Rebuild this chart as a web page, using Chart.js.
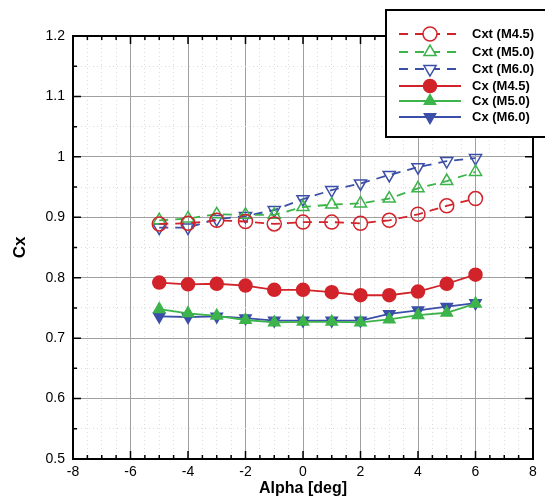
<!DOCTYPE html>
<html>
<head>
<meta charset="utf-8">
<script src="https://cdn.jsdelivr.net/npm/chart.js"></script>
<style>
  html, body { margin: 0; padding: 0; background: #fff; }
  #wrap { width: 545px; height: 498px; }
</style>
</head>
<body>
<div id="wrap"><canvas id="c" width="545" height="498"></canvas></div>
<script>
// valores
const alpha = [-5, -4, -3, -2, -1, 0, 1, 2, 3, 4, 5, 6];
const cxtM45 = [0.889, 0.890, 0.895, 0.893, 0.889, 0.892, 0.892, 0.890, 0.895, 0.905, 0.919, 0.931];
const cxtM50 = [0.895, 0.898, 0.905, 0.904, 0.904, 0.917, 0.921, 0.923, 0.931, 0.948, 0.960, 0.975];
const cxtM60 = [0.883, 0.883, 0.897, 0.902, 0.912, 0.930, 0.945, 0.956, 0.970, 0.983, 0.993, 0.998];
const cxM45 = [0.792, 0.789, 0.790, 0.787, 0.780, 0.780, 0.776, 0.771, 0.771, 0.777, 0.790, 0.805];
const cxM50 = [0.748, 0.741, 0.737, 0.730, 0.726, 0.727, 0.727, 0.726, 0.731, 0.738, 0.742, 0.757];
const cxM60 = [0.736, 0.735, 0.736, 0.733, 0.729, 0.729, 0.729, 0.729, 0.740, 0.746, 0.752, 0.758];
const seriesLabels = ['Cxt (M4.5)', 'Cxt (M5.0)', 'Cxt (M6.0)', 'Cx (M4.5)', 'Cx (M5.0)', 'Cx (M6.0)'];

const RED = '#d2232a';
const GREEN = '#3cb44b';
const BLUE = '#3b4fa8';

function pts(ys) {
    return alpha.map((x, i) => ({ x: x, y: ys[i] }));
}

function serie(label, ys, color, style, rot, filled) {
    return {
        label: label,
        data: pts(ys),
        borderColor: color,
        backgroundColor: filled ? color : 'rgba(0,0,0,0)',
        pointBorderColor: color,
        pointBackgroundColor: filled ? color : 'rgba(0,0,0,0)',
        pointStyle: style,
        pointRotation: rot,
        pointRadius: filled ? 6.5 : 7,
        pointBorderWidth: 1.5,
        borderWidth: 1.8,
        borderDash: filled ? [] : [9, 7],
        showLine: true,
        tension: 0
    };
}

const datasets = [
    serie(seriesLabels[0], cxtM45, RED, 'circle', 0, false),
    serie(seriesLabels[1], cxtM50, GREEN, 'triangle', 0, false),
    serie(seriesLabels[2], cxtM60, BLUE, 'triangle', 180, false),
    serie(seriesLabels[3], cxM45, RED, 'circle', 0, true),
    serie(seriesLabels[4], cxM50, GREEN, 'triangle', 0, true),
    serie(seriesLabels[5], cxM60, BLUE, 'triangle', 180, true)
];

function isMajor(v, step) {
    return Math.abs(v / step - Math.round(v / step)) < 1e-6;
}

// ticks internos + moldura
const framePlugin = {
    id: 'frame',
    afterDatasetsDraw(chart) {
        const ctx = chart.ctx;
        const a = chart.chartArea;
        const xs = chart.scales.x, ys = chart.scales.y;
        ctx.save();
        ctx.strokeStyle = '#000';
        ctx.lineWidth = 1.5;
        xs.ticks.forEach(t => {
            const px = xs.getPixelForValue(t.value);
            const len = isMajor(t.value, 2) ? 8 : 4;
            ctx.beginPath();
            ctx.moveTo(px, a.bottom); ctx.lineTo(px, a.bottom - len);
            ctx.moveTo(px, a.top); ctx.lineTo(px, a.top + len);
            ctx.stroke();
        });
        ys.ticks.forEach(t => {
            const py = ys.getPixelForValue(t.value);
            const len = isMajor(t.value, 0.1) ? 8 : 4;
            ctx.beginPath();
            ctx.moveTo(a.left, py); ctx.lineTo(a.left + len, py);
            ctx.moveTo(a.right, py); ctx.lineTo(a.right - len, py);
            ctx.stroke();
        });
        ctx.lineWidth = 2;
        ctx.strokeRect(a.left, a.top, a.right - a.left, a.bottom - a.top);
        ctx.restore();
    },
    afterDraw(chart) {
        // legenda desenhada por cima, no canto superior direito
        const ctx = chart.ctx;
        const bx = 386, by = 10, bw = 170, bh = 127;
        ctx.save();
        ctx.fillStyle = '#fff';
        ctx.fillRect(bx, by, bw, bh);
        ctx.strokeStyle = '#000';
        ctx.lineWidth = 2;
        ctx.strokeRect(bx, by, bw, bh);
        const rowY = [34, 52, 69, 86, 101, 117];
        chart.data.datasets.forEach((ds, i) => {
            const y = rowY[i];
            ctx.strokeStyle = ds.borderColor;
            ctx.lineWidth = 1.8;
            ctx.setLineDash(ds.borderDash);
            ctx.beginPath();
            ctx.moveTo(399, y); ctx.lineTo(461, y);
            ctx.stroke();
            ctx.setLineDash([]);
            ctx.fillStyle = ds.pointBackgroundColor;
            ctx.strokeStyle = ds.pointBorderColor;
            ctx.lineWidth = 1.5;
            if (ds.pointBackgroundColor === 'rgba(0,0,0,0)') {
                // apaga a linha por baixo do marcador aberto
                ctx.fillStyle = '#fff';
                Chart.helpers.drawPoint(ctx, { pointStyle: ds.pointStyle, rotation: ds.pointRotation, radius: ds.pointRadius, borderWidth: 0 }, 430, y);
                ctx.fillStyle = 'rgba(0,0,0,0)';
            }
            Chart.helpers.drawPoint(ctx, { pointStyle: ds.pointStyle, rotation: ds.pointRotation, radius: ds.pointRadius, borderWidth: 1.5 }, 430, y);
            ctx.fillStyle = '#000';
            ctx.font = 'bold 13px "Liberation Sans", Arial, sans-serif';
            ctx.textBaseline = 'middle';
            ctx.textAlign = 'left';
            ctx.fillText(ds.label, 472, y);
        });
        ctx.restore();
    }
};

new Chart(document.getElementById('c'), {
    type: 'scatter',
    data: { datasets: datasets },
    options: {
        responsive: false,
        animation: false,
        layout: { padding: { top: 36, right: 12, left: 0, bottom: 0 } },
        plugins: { legend: { display: false }, tooltip: { enabled: false } },
        scales: {
            x: {
                type: 'linear',
                min: -8, max: 8,
                afterBuildTicks(scale) {
                    const t = [];
                    for (let v = -8; v <= 8.0001; v += 0.5) t.push({ value: Math.round(v * 10) / 10 });
                    scale.ticks = t;
                },
                afterFit(scale) { scale.height = 39; },
                ticks: {
                    autoSkip: false,
                    maxRotation: 0,
                    padding: 5,
                    color: '#000',
                    font: { family: '"Liberation Sans", Arial, sans-serif', size: 14 },
                    callback: v => isMajor(v, 2) ? String(v) : ''
                },
                grid: {
                    drawTicks: false,
                    color: c => isMajor(c.tick.value, 2) ? '#a0a0a0' : '#dcdcdc',
                    lineWidth: 1
                },
                border: { display: false, dash: c => (c.tick && isMajor(c.tick.value, 2)) ? [] : [1, 3] },
                title: {
                    display: true,
                    text: 'Alpha [deg]',
                    color: '#000',
                    font: { family: '"Liberation Sans", Arial, sans-serif', size: 16, weight: 'bold' },
                    padding: { top: 0, bottom: 0 }
                }
            },
            y: {
                type: 'linear',
                min: 0.5, max: 1.2,
                afterBuildTicks(scale) {
                    const t = [];
                    for (let i = 0; i <= 14; i++) t.push({ value: Math.round((0.5 + i * 0.05) * 100) / 100 });
                    scale.ticks = t;
                },
                afterFit(scale) { scale.width = 73; },
                ticks: {
                    autoSkip: false,
                    padding: 8,
                    color: '#000',
                    font: { family: '"Liberation Sans", Arial, sans-serif', size: 14 },
                    callback: v => isMajor(v, 0.1) ? String(Math.round(v * 10) / 10) : ''
                },
                grid: {
                    drawTicks: false,
                    color: c => isMajor(c.tick.value, 0.1) ? '#a0a0a0' : '#dcdcdc',
                    lineWidth: 1
                },
                border: { display: false, dash: c => (c.tick && isMajor(c.tick.value, 0.1)) ? [] : [1, 3] },
                title: {
                    display: true,
                    text: 'Cx',
                    color: '#000',
                    font: { family: '"Liberation Sans", Arial, sans-serif', size: 17, weight: 'bold' },
                    padding: { top: 10, bottom: 0 }
                }
            }
        }
    },
    plugins: [framePlugin]
});
</script>
</body>
</html>
